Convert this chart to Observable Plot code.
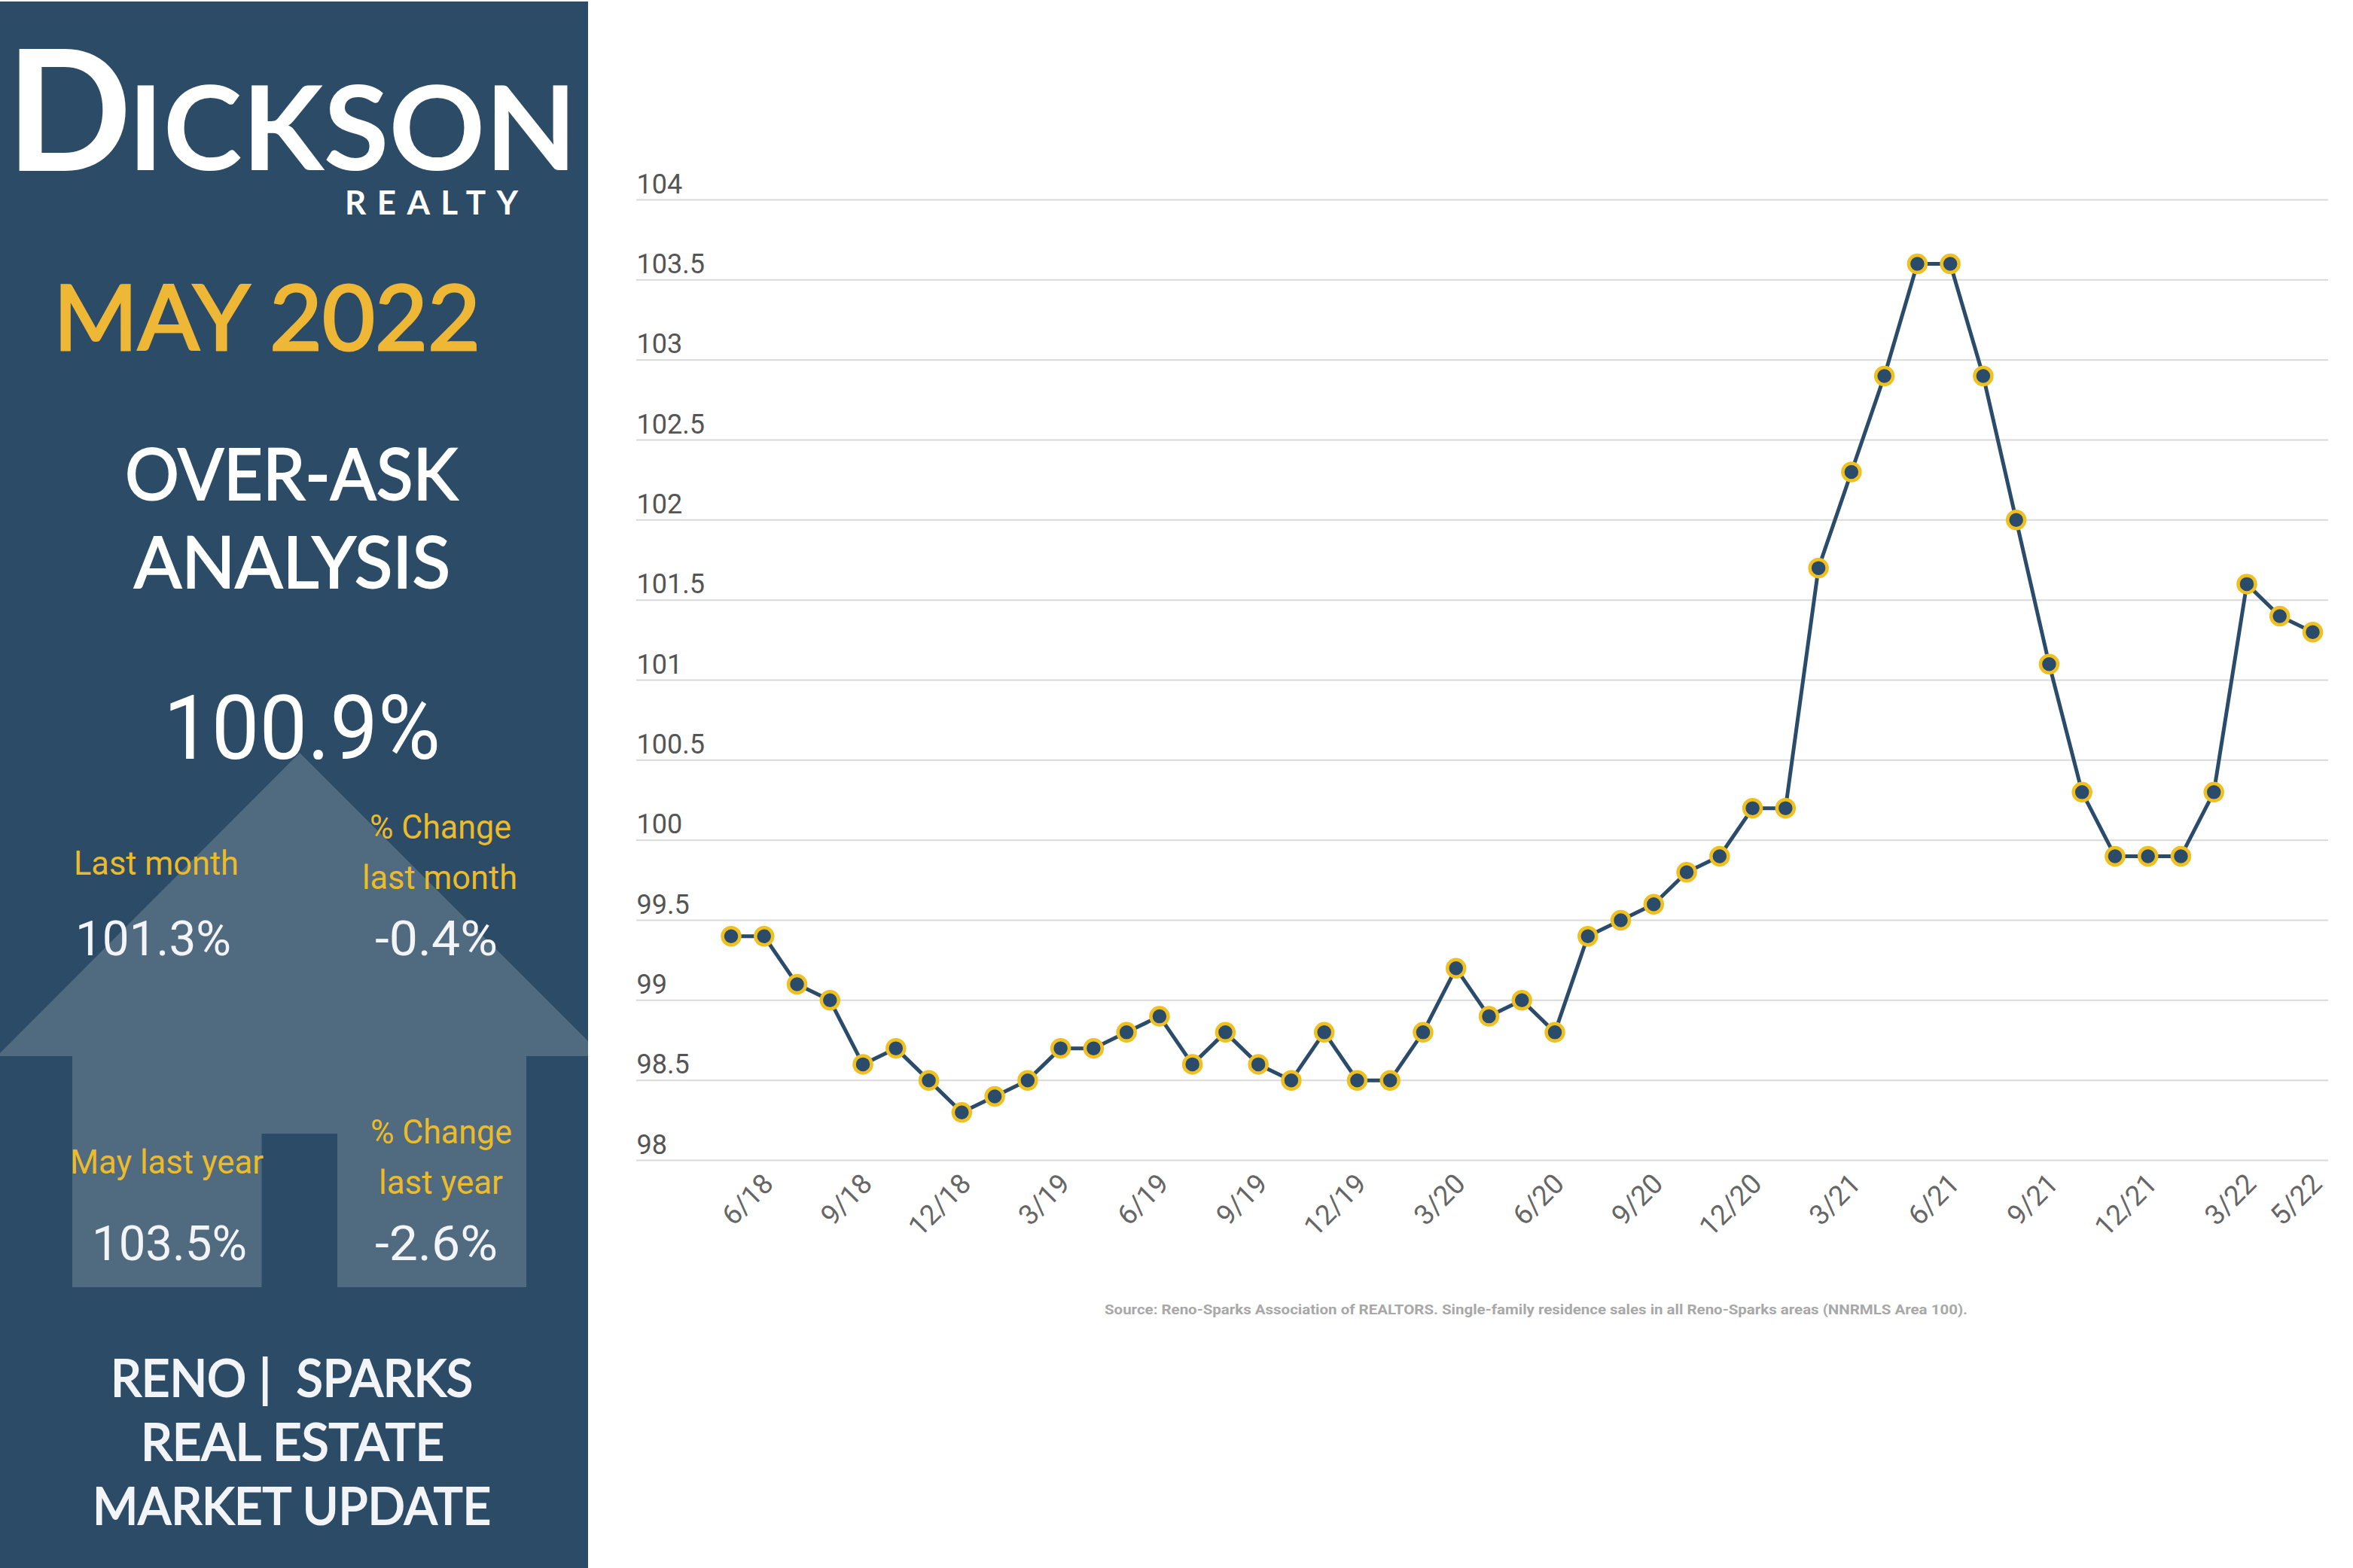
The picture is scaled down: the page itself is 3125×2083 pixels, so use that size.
<!DOCTYPE html>
<html>
<head>
<meta charset="utf-8">
<script src="https://cdn.jsdelivr.net/npm/d3@7"></script>
<script src="https://cdn.jsdelivr.net/npm/@observablehq/plot@0.6"></script>
<style>
html,body{margin:0;padding:0;background:#fff;}
#page{position:relative;width:3125px;height:2083px;overflow:hidden;background:#fff;}
#panel{position:absolute;left:0;top:0;}
#panel text{white-space:pre;}
</style>
</head>
<body>
<div id="page"></div>
<script>
const months = ["5/18","6/18","7/18","8/18","9/18","10/18","11/18","12/18",
  "1/19","2/19","3/19","4/19","5/19","6/19","7/19","8/19","9/19","10/19","11/19","12/19",
  "1/20","2/20","3/20","4/20","5/20","6/20","7/20","8/20","9/20","10/20","11/20","12/20",
  "1/21","2/21","3/21","4/21","5/21","6/21","7/21","8/21","9/21","10/21","11/21","12/21",
  "1/22","2/22","3/22","4/22","5/22"];
const overAsk = [99.4,99.4,99.1,99.0,98.6,98.7,98.5,98.3,
  98.4,98.5,98.7,98.7,98.8,98.9,98.6,98.8,98.6,98.5,98.8,98.5,
  98.5,98.8,99.2,98.9,99.0,98.8,99.4,99.5,99.6,99.8,99.9,100.2,
  100.2,101.7,102.3,102.9,103.6,103.6,102.9,102.0,101.1,100.3,99.9,99.9,
  99.9,100.3,101.6,101.4,101.3];
const xTickLabels = ["6/18","9/18","12/18","3/19","6/19","9/19","12/19","3/20","6/20","9/20","12/20","3/21","6/21","9/21","12/21","3/22","5/22"];
const yTickValues = [98,98.5,99,99.5,100,100.5,101,101.5,102,102.5,103,103.5,104];
const sourceNote = "Source: Reno-Sparks Association of REALTORS. Single-family residence sales in all Reno-Sparks areas (NNRMLS Area 100).";

const NAVY = "#2b4b66", GOLD = "#eeb735", LABEL_GOLD = "#ecbb2a", WHITE = "#ffffff", OFFWHITE = "#f2f4f7", HOUSE = "#506a80";
const LATO = "Lato, sans-serif", ROBOTO = "Roboto, sans-serif";

// left panel and page furniture
const page = d3.select("#page");
const svg = page.append("svg").attr("id","panel").attr("width",3125).attr("height",2083).attr("viewBox","0 0 3125 2083");
svg.append("rect").attr("x",0).attr("y",2).attr("width",781).attr("height",2081).attr("fill",NAVY);
svg.append("path").attr("fill",HOUSE)
  .attr("d","M398,1000 L781,1383 L781,1403 L699,1403 L699,1710 L448,1710 L448,1506 L347.5,1506 L347.5,1710 L96,1710 L96,1403 L0,1403 L0,1399 Z");

function put(str, x0, x1, base, size, fill, font, weight, adjust, thicken){
  const t = svg.append("text").text(str)
    .attr("x",x0).attr("y",base)
    .attr("textLength",x1-x0).attr("lengthAdjust",adjust||"spacingAndGlyphs")
    .attr("font-family",font).attr("font-size",size).attr("font-weight",weight||400)
    .attr("fill",fill);
  if (thicken) t.attr("stroke",fill).attr("stroke-width",thicken);
}
put("D",8,175,227,224,WHITE,LATO,700);
put("ICKSON",170,766,226,156,WHITE,LATO,700);
put("REALTY",458,688,285,44,WHITE,LATO,700,"spacing");
put("MAY 2022",71,638,465,121,GOLD,LATO,400,null,3);
put("OVER-ASK",166,608,664,95,WHITE,LATO,400,null,2);
put("ANALYSIS",178,598,781,95,WHITE,LATO,400,null,2);
put("100.9%",217,585,1008,119,WHITE,ROBOTO,400);
put("Last month",98,317,1162,45,LABEL_GOLD,ROBOTO,400);
put("% Change",491,679,1114,45,LABEL_GOLD,ROBOTO,400);
put("last month",481,687,1181,45,LABEL_GOLD,ROBOTO,400);
put("101.3%",100,307,1269,64,OFFWHITE,ROBOTO,400);
put("-0.4%",498,661,1269,64,OFFWHITE,ROBOTO,400);
put("May last year",93,350,1559,45,LABEL_GOLD,ROBOTO,400);
put("% Change",492,680,1519,45,LABEL_GOLD,ROBOTO,400);
put("last year",503,668,1586,45,LABEL_GOLD,ROBOTO,400);
put("103.5%",122,328,1674,64,OFFWHITE,ROBOTO,400);
put("-2.6%",498,661,1674,64,OFFWHITE,ROBOTO,400);
put("RENO |  SPARKS",147,628,1855,67,OFFWHITE,LATO,400,null,2);
put("REAL ESTATE",187,590,1940,67,OFFWHITE,LATO,400,null,2);
put("MARKET UPDATE",123,652,2025,67,OFFWHITE,LATO,400,null,2);
put(sourceNote,1467,2613,1746,19,"#a8a8a8",ROBOTO,700);

// chart
const series = months.map((m,i)=>({month:m, value:overAsk[i]}));
const chart = Plot.plot({
  width: 2344, height: 2083,
  marginLeft: 64, marginRight: 33, marginTop: 265, marginBottom: 542,
  style: {background:"transparent", position:"absolute", left:"781px", top:"0", fontFamily:"Roboto, sans-serif", overflow:"visible"},
  x: {type:"point", domain: months, range:[189.5, 2290], padding:0},
  y: {domain:[98,104]},
  marks: [
    Plot.ruleY(yTickValues, {stroke:"#d9d9d9", strokeWidth:2}),
    Plot.axisY({ticks:yTickValues, tickSize:0, tickPadding:0, textAnchor:"start", dy:-20.5, label:null,
      tickFormat:d=>String(d), fontSize:36, fill:"#555555"}),
    Plot.axisX({ticks:xTickLabels, tickSize:0, tickPadding:8, tickRotate:-45, label:null, fontSize:37, fill:"#666666", dx:6, dy:17}),
    Plot.line(series, {x:"month", y:"value", stroke:"#2b4b6a", strokeWidth:5, curve:"linear"}),
    Plot.dot(series, {x:"month", y:"value", r:11.5, fill:"#2b4b6a", stroke:"#efc020", strokeWidth:4.5})
  ]
});
document.getElementById("page").appendChild(chart);
</script>
</body>
</html>
